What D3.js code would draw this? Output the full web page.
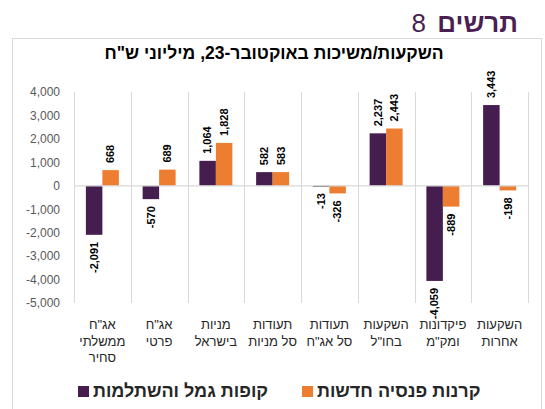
<!DOCTYPE html>
<html>
<head>
<meta charset="utf-8">
<script src="https://cdn.jsdelivr.net/npm/d3@7"></script>
<style>
  body { margin: 0; background: #fff; }
  svg { display: block; font-family: "Liberation Sans", Arial, sans-serif; }
</style>
</head>
<body>
<svg></svg>
<script>
// categories, left to right as drawn (each one split into its lines)
let categories = [
  ['אג"ח', 'ממשלתי', 'סחיר'],
  ['אג"ח', 'פרטי'],
  ['מניות', 'בישראל'],
  ['תעודות', 'סל מניות'],
  ['תעודות', 'סל אג"ח'],
  ['השקעות', 'בחו"ל'],
  ['פיקדונות', 'ומק"מ'],
  ['השקעות', 'אחרות']
];

let seriesNames = ['קופות גמל והשתלמות', 'קרנות פנסיה חדשות'];
let gemelValues = [-2091, -570, 1064, 582, -13, 2237, -4059, 3443];
let pensiaValues = [668, 689, 1828, 583, -326, 2443, -889, -198];
let yTicks = [4000, 3000, 2000, 1000, 0, -1000, -2000, -3000, -4000, -5000];

let colors = ['#461d4f', '#ed7d31'];

let svgWidth = 545;
let svgHeight = 409;

// plain hyphen for negatives, like the original
let fmt = d3.formatLocale({ decimal: '.', thousands: ',', grouping: [3], currency: ['', ''], minus: '-' }).format(',');

let svg = d3.select('svg')
    .attr('width', svgWidth)
    .attr('height', svgHeight);

// heading above the box
svg.append('text')
    .attr('x', 518).attr('y', 32)
    .attr('text-anchor', 'end')
    .attr('font-size', 26).attr('font-weight', 'bold')
    .attr('fill', '#4a1f52')
    .text('תרשים');
svg.append('text')
    .attr('x', 426).attr('y', 32)
    .attr('text-anchor', 'end')
    .attr('font-size', 26)
    .attr('fill', '#4a1f52')
    .text('8');

// the chart box
svg.append('rect')
    .attr('x', 12.5).attr('y', 38.5)
    .attr('width', 529).attr('height', 400)
    .attr('fill', 'none')
    .attr('stroke', '#d9d9d9');

svg.append('text')
    .attr('x', 274).attr('y', 59)
    .attr('text-anchor', 'middle')
    .attr('direction', 'rtl')
    .attr('font-size', 17.5).attr('font-weight', 'bold')
    .attr('fill', '#000')
    .text('השקעות/משיכות באוקטובר-23, מיליוני ש"ח');

// scales
let x0 = d3.scaleBand()
    .domain(d3.range(categories.length))
    .range([74, 528])
    .paddingInner(0).paddingOuter(0);

let x1 = d3.scaleBand()
    .domain([0, 1])
    .range([0, x0.bandwidth()])
    .paddingInner(0).paddingOuter(0.72);

let y = d3.scaleLinear()
    .domain([-5000, 4000])
    .range([303, 92]);

// vertical separators between categories
svg.append('g')
    .selectAll('line')
    .data(d3.range(categories.length + 1))
    .enter()
    .append('line')
    .attr('x1', d => Math.round(74 + x0.step() * d) + 0.5)
    .attr('x2', d => Math.round(74 + x0.step() * d) + 0.5)
    .attr('y1', y(4000))
    .attr('y2', y(-5000))
    .attr('stroke', '#d9d9d9');

// y axis labels
let yAxis = d3.axisLeft(y)
    .tickValues(yTicks)
    .tickSize(0)
    .tickPadding(0)
    .tickFormat(fmt);

svg.append('g')
    .attr('transform', 'translate(60,0)')
    .call(yAxis)
    .call(g => g.select('.domain').remove())
    .selectAll('text')
    .attr('font-size', 12)
    .attr('font-family', '"Liberation Sans", Arial, sans-serif')
    .attr('fill', '#595959');

// bars
let rows = gemelValues.map((v, i) => [
  { cat: i, s: 0, v: v },
  { cat: i, s: 1, v: pensiaValues[i] }
]).flat();

svg.append('g')
    .selectAll('rect')
    .data(rows)
    .enter()
    .append('rect')
    .attr('x', d => x0(d.cat) + x1(d.s))
    .attr('width', x1.bandwidth())
    .attr('y', d => y(Math.max(0, d.v)))
    .attr('height', d => Math.max(1, Math.abs(y(d.v) - y(0))))
    .attr('fill', d => colors[d.s]);

// zero line
svg.append('line')
    .attr('x1', 74).attr('x2', 528)
    .attr('y1', y(0)).attr('y2', y(0))
    .attr('stroke', '#d9d9d9')
    .attr('stroke-width', 1.2);

// value labels, turned on their side
svg.append('g')
    .selectAll('text')
    .data(rows)
    .enter()
    .append('text')
    .attr('transform', d => {
      let cx = x0(d.cat) + x1(d.s) + x1.bandwidth() / 2;
      let cy = d.v >= 0 ? y(d.v) - 7 : y(d.v) + 7;
      return 'translate(' + cx + ',' + cy + ') rotate(-90)';
    })
    .attr('dy', '0.35em')
    .attr('text-anchor', d => d.v >= 0 ? 'start' : 'end')
    .attr('font-size', 11).attr('font-weight', 'bold')
    .attr('fill', '#000')
    .text(d => fmt(d.v));

// category labels
let catLabels = svg.append('g')
    .selectAll('text')
    .data(categories)
    .enter()
    .append('text')
    .attr('text-anchor', 'middle')
    .attr('direction', 'rtl')
    .attr('font-size', 13)
    .attr('fill', '#262626');

catLabels.selectAll('tspan')
    .data((d, i) => d.map(line => ({ line: line, i: i })))
    .enter()
    .append('tspan')
    .attr('x', d => x0(d.i) + x0.bandwidth() / 2)
    .attr('y', (d, j) => 329 + j * 16.5)
    .text(d => d.line);

// legend
let legendX = [78, 302];
let legend = svg.append('g')
    .selectAll('g')
    .data(seriesNames)
    .enter()
    .append('g');

legend.append('rect')
    .attr('x', (d, i) => legendX[i])
    .attr('y', 386)
    .attr('width', 11).attr('height', 11)
    .attr('fill', (d, i) => colors[i]);

legend.append('text')
    .attr('x', (d, i) => legendX[i] + 15)
    .attr('y', 397)
    .attr('direction', 'rtl')
    .attr('text-anchor', 'end')
    .attr('font-size', 18).attr('font-weight', 'bold')
    .attr('fill', '#262626')
    .text(d => d);
</script>
</body>
</html>
